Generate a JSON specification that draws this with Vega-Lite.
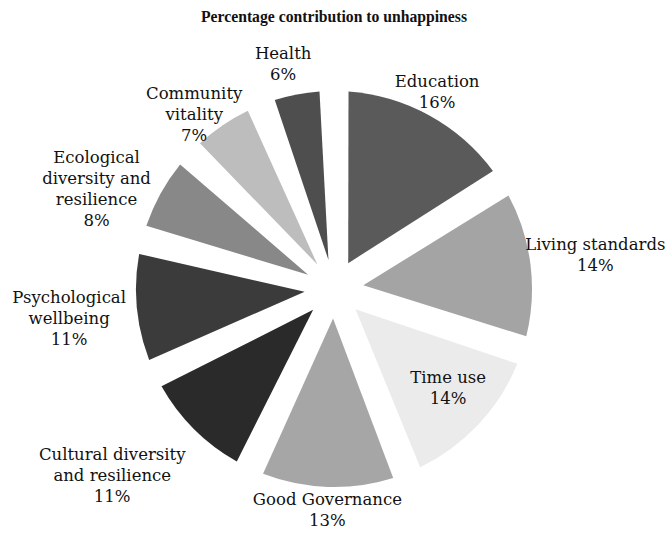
{
  "$schema": "https://vega.github.io/schema/vega-lite/v6.json",
  "width": 668,
  "height": 488,
  "autosize": {"type": "none"},
  "padding": {"top": 45, "bottom": 0, "left": 0, "right": 0},
  "background": "white",
  "view": {"stroke": null},
  "title": {
    "text": "Percentage contribution to unhappiness",
    "font": "Liberation Serif",
    "fontSize": 15.7,
    "fontWeight": "bold",
    "color": "#111111",
    "anchor": "middle",
    "frame": "group",
    "offset": 19
  },
  "data": {
    "values": [
      {"idx": 1, "name": "Education", "value": 16, "label": "Education\n16%"},
      {"idx": 2, "name": "Living standards", "value": 14, "label": "Living standards\n14%"},
      {"idx": 3, "name": "Time use", "value": 14, "label": "Time use\n14%"},
      {"idx": 4, "name": "Good Governance", "value": 13, "label": "Good Governance\n13%"},
      {"idx": 5, "name": "Cultural diversity and resilience", "value": 11, "label": "Cultural diversity\nand resilience\n11%"},
      {"idx": 6, "name": "Psychological wellbeing", "value": 11, "label": "Psychological\nwellbeing\n11%"},
      {"idx": 7, "name": "Ecological diversity and resilience", "value": 8, "label": "Ecological\ndiversity and\nresilience\n8%"},
      {"idx": 8, "name": "Community vitality", "value": 7, "label": "Community\nvitality\n7%"},
      {"idx": 9, "name": "Health", "value": 6, "label": "Health\n6%"}
    ]
  },
  "encoding": {
    "theta": {"field": "value", "type": "quantitative", "stack": true},
    "order": {"field": "idx", "type": "quantitative", "sort": "ascending"}
  },
  "layer": [
    {
      "mark": {"type": "arc", "outerRadius": 198, "innerRadius": 29.5, "padAngle": 0.145},
      "encoding": {
        "color": {
          "field": "name",
          "type": "nominal",
          "legend": null,
          "scale": {
            "domain": ["Education", "Living standards", "Time use", "Good Governance", "Cultural diversity and resilience", "Psychological wellbeing", "Ecological diversity and resilience", "Community vitality", "Health"],
            "range": ["#5a5a5a", "#a4a4a4", "#ebebeb", "#a6a6a6", "#2a2a2a", "#3b3b3b", "#888888", "#bdbdbd", "#4e4e4e"]
          }
        }
      }
    },
    {
      "mark": {"type": "text", "radius": 240, "thetaOffset": -0.025, "font": "DejaVu Serif", "fontSize": 16.5, "lineHeight": 21, "lineBreak": "\n", "color": "#111111", "align": "center", "baseline": "middle"},
      "encoding": {
        "text": {"condition": {"test": "indexof(['Health','Community vitality'], datum.name) >= 0", "field": "label"}, "value": ""}
      }
    },
    {
      "mark": {"type": "text", "clip": true, "radius": 231, "thetaOffset": -0.04, "font": "DejaVu Serif", "fontSize": 16.5, "lineHeight": 21, "lineBreak": "\n", "color": "#111111", "align": "center", "baseline": "middle"},
      "encoding": {
        "text": {"condition": {"test": "datum.name == 'Education'", "field": "label"}, "value": ""}
      }
    },
    {
      "mark": {"type": "text", "clip": true, "radius": 211, "font": "DejaVu Serif", "fontSize": 16.5, "lineHeight": 21, "lineBreak": "\n", "color": "#111111", "align": "center", "baseline": "middle"},
      "encoding": {
        "text": {"condition": {"test": "datum.name == 'Good Governance'", "field": "label"}, "value": ""}
      }
    },
    {
      "mark": {"type": "text", "clip": true, "radius": 265, "thetaOffset": -0.04, "font": "DejaVu Serif", "fontSize": 16.5, "lineHeight": 21, "lineBreak": "\n", "color": "#111111", "align": "center", "baseline": "middle"},
      "encoding": {
        "text": {"condition": {"test": "datum.name == 'Living standards'", "field": "label"}, "value": ""}
      }
    },
    {
      "mark": {"type": "text", "clip": true, "radius": 265, "thetaOffset": 0.06, "font": "DejaVu Serif", "fontSize": 16.5, "lineHeight": 21, "lineBreak": "\n", "color": "#111111", "align": "center", "baseline": "middle"},
      "encoding": {
        "text": {"condition": {"test": "datum.name == 'Psychological wellbeing'", "field": "label"}, "value": ""}
      }
    },
    {
      "mark": {"type": "text", "clip": true, "radius": 271, "font": "DejaVu Serif", "fontSize": 16.5, "lineHeight": 21, "lineBreak": "\n", "color": "#111111", "align": "center", "baseline": "middle"},
      "encoding": {
        "text": {"condition": {"test": "datum.name == 'Ecological diversity and resilience'", "field": "label"}, "value": ""}
      }
    },
    {
      "mark": {"type": "text", "clip": true, "radius": 277, "thetaOffset": 0.143, "font": "DejaVu Serif", "fontSize": 16.5, "lineHeight": 21, "lineBreak": "\n", "color": "#111111", "align": "center", "baseline": "middle"},
      "encoding": {
        "text": {"condition": {"test": "datum.name == 'Cultural diversity and resilience'", "field": "label"}, "value": ""}
      }
    },
    {
      "mark": {"type": "text", "clip": true, "radius": 145, "thetaOffset": -0.09, "font": "DejaVu Serif", "fontSize": 16.5, "lineHeight": 21, "lineBreak": "\n", "color": "#111111", "align": "center", "baseline": "middle"},
      "encoding": {
        "text": {"condition": {"test": "datum.name == 'Time use'", "field": "label"}, "value": ""}
      }
    }
  ]
}
